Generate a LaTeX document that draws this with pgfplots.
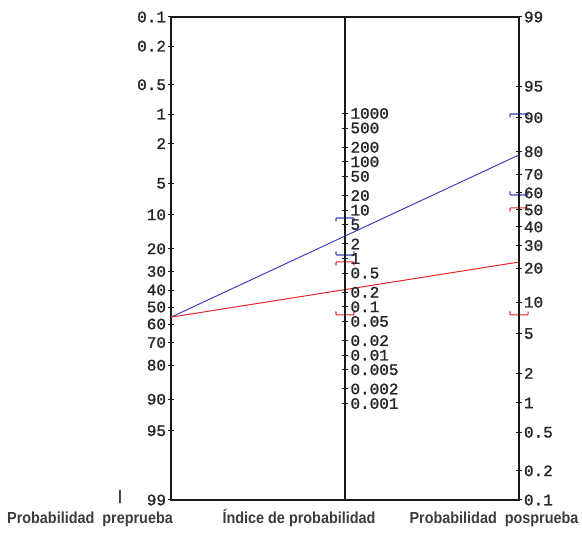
\documentclass[border=0pt]{standalone}
\usepackage{fontspec}
\setmainfont{Liberation Sans}
\setmonofont{Liberation Mono}
\newfontfamily\labelfont{Liberation Sans}[FakeStretch=0.9]
\newfontfamily\tickfont{Liberation Mono}[FakeBold=1.2]
\usepackage{pgfplots}
\pgfplotsset{compat=1.18}
\definecolor{nblue}{RGB}{64,64,190}
\definecolor{nred}{RGB}{232,40,42}
\definecolor{labgray}{RGB}{60,60,60}
\pgfplotsset{
  nomo/.style={
    at={(171pt,38pt)}, anchor=south west, scale only axis,
    height=483pt, ymin=-6.9068, ymax=4.5951, xmin=0, xmax=1,
    xtick=\empty, clip=false,
    tick align=center, major tick length=6pt,
    axis line style={line width=1.1pt, black!90},
    every tick/.style={line width=1pt, black!90},
    yticklabel style={font=\tickfont\fontsize{16}{16}\selectfont, text=black!85, inner sep=0pt, outer sep=0pt},
  }
}
\begin{document}
\begin{tikzpicture}
\useasboundingbox (0,0) rectangle (582pt,538pt);
% left axis: pretest probability (box)
\begin{axis}[nomo, width=348pt, ytick pos=left,
  yticklabel style={xshift=-2pt},
  ytick={4.5951,3.9009,2.9816,2.2834,1.5801,0.6327,-0.1145,-0.9254,-1.4644,-1.9062,-2.3117,-2.7172,-3.1590,-3.6980,-4.5089,-5.2561,-6.9068},
  yticklabels={0.1,0.2,0.5,1,2,5,10,20,30,40,50,60,70,80,90,95,99}]
  % lines
  \addplot[nblue, line width=1pt, no marks] coordinates {(0,-2.553) (1,1.310)};
  \addplot[nred, line width=1pt, no marks] coordinates {(0,-2.553) (1,-1.240)};
  % confidence brackets, likelihood ratio scale
  \addplot[nblue, line width=1.1pt, no marks, rounded corners=0.8pt] coordinates {(0.4741,-0.274) (0.4741,-0.191) (0.5259,-0.191) (0.5259,-0.274)};
  \addplot[nblue, line width=1.1pt, no marks, rounded corners=0.8pt] coordinates {(0.4741,-0.989) (0.4741,-1.072) (0.5259,-1.072) (0.5259,-0.989)};
  \addplot[nred, line width=1.1pt, no marks, rounded corners=0.8pt] coordinates {(0.4741,-1.321) (0.4741,-1.238) (0.5259,-1.238) (0.5259,-1.321)};
  \addplot[nred, line width=1.1pt, no marks, rounded corners=0.8pt] coordinates {(0.4741,-2.417) (0.4741,-2.500) (0.5259,-2.500) (0.5259,-2.417)};
  % confidence brackets, posttest scale
  \addplot[nblue, line width=1.1pt, no marks, rounded corners=0.8pt] coordinates {(0.974,2.202) (0.974,2.285) (1.026,2.285) (1.026,2.202)};
  \addplot[nblue, line width=1.1pt, no marks, rounded corners=0.8pt] coordinates {(0.974,0.440) (0.974,0.357) (1.026,0.357) (1.026,0.440)};
  \addplot[nred, line width=1.1pt, no marks, rounded corners=0.8pt] coordinates {(0.974,-0.035) (0.974,0.048) (1.026,0.048) (1.026,-0.035)};
  \addplot[nred, line width=1.1pt, no marks, rounded corners=0.8pt] coordinates {(0.974,-2.417) (0.974,-2.500) (1.026,-2.500) (1.026,-2.417)};
\end{axis}
% right axis: posttest probability
\begin{axis}[nomo, width=348pt, axis x line=none, axis y line*=right,
  yticklabel style={xshift=2pt},
  ytick={4.5951,2.9444,2.1972,1.3863,0.8473,0.4055,0,-0.4055,-0.8473,-1.3863,-2.1972,-2.9444,-3.8918,-4.5951,-5.2933,-6.2126,-6.9068},
  yticklabels={99,95,90,80,70,60,50,40,30,20,10,5,2,1,0.5,0.2,0.1}]
\end{axis}
% middle axis: likelihood ratio
\begin{axis}[nomo, width=174pt, axis x line=none, axis y line*=right,
  yticklabel style={xshift=2.5pt},
  ytick={2.2980,1.9515,1.4933,1.1468,0.8002,0.3420,-0.0046,-0.3512,-0.8093,-1.1559,-1.5024,-1.9606,-2.3072,-2.6537,-3.1119,-3.4585,-3.8050,-4.2632,-4.6098},
  yticklabels={1000,500,200,100,50,20,10,5,2,1,0.5,0.2,0.1,0.05,0.02,0.01,0.005,0.002,0.001}]
\end{axis}
% bottom titles
\node[anchor=base, text=labgray, inner sep=0pt, font=\labelfont\bfseries\fontsize{16}{16}\selectfont] at (90pt,14pt) {Probabilidad\hspace{0.25em} preprueba};
\node[anchor=base, text=labgray, inner sep=0pt, font=\labelfont\bfseries\fontsize{16}{16}\selectfont] at (299pt,14pt) {Índice de probabilidad};
\node[anchor=base, text=labgray, inner sep=0pt, font=\labelfont\bfseries\fontsize{16}{16}\selectfont] at (494pt,14pt) {Probabilidad\hspace{0.25em} posprueba};
\node[anchor=base, text=black!80, inner sep=0pt, font=\bfseries\fontsize{14}{14}\selectfont] at (120pt,37pt) {|};
\end{tikzpicture}
\end{document}
